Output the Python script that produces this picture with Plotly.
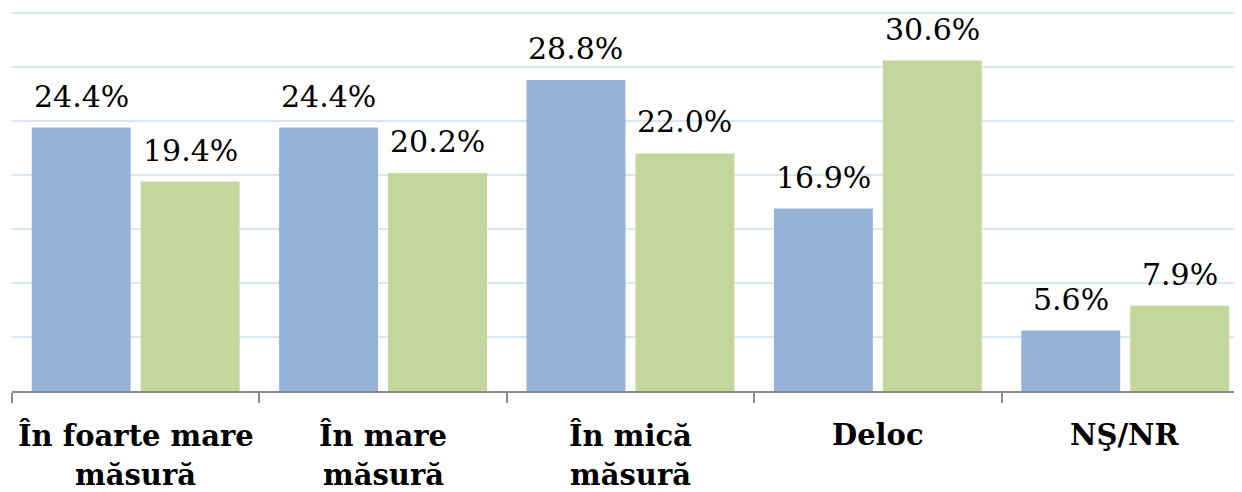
import plotly.graph_objects as go

categories = ["În foarte mare măsură", "În mare măsură", "În mică măsură", "Deloc", "NŞ/NR"]
category_lines = [["În foarte mare", "măsură"], ["În mare", "măsură"], ["În mică", "măsură"], ["Deloc"], ["NŞ/NR"]]
series_a = [24.4, 24.4, 28.8, 16.9, 5.6]
series_b = [19.4, 20.2, 22.0, 30.6, 7.9]

BLUE = "#95B3D7"
GREEN = "#C3D69B"
FONT = "DejaVu Serif"

fig = go.Figure()
fig.add_trace(go.Bar(x=categories, y=series_a, marker=dict(color=BLUE, line=dict(width=0)), name="A"))
fig.add_trace(go.Bar(x=categories, y=series_b, marker=dict(color=GREEN, line=dict(width=0)), name="B"))

annotations = []
for cat, va, vb in zip(categories, series_a, series_b):
    for v, dx in ((va, -54.5), (vb, 54.5)):
        annotations.append(dict(
            x=cat, y=v, xref="x", yref="y", text=f"{v:.1f}%", showarrow=False,
            xanchor="center", yanchor="bottom", xshift=dx, yshift=12,
            font=dict(family=FONT, size=30, color="#000000")))
for cat, lines in zip(categories, category_lines):
    for i, ln in enumerate(lines):
        annotations.append(dict(
            x=cat, y=0, xref="x", yref="paper", text=f"<b>{ln}</b>", showarrow=False,
            xanchor="center", yanchor="top", yshift=-26 - 40 * i, borderpad=0,
            font=dict(family=FONT, size=29, color="#000000")))

fig.update_layout(
    width=1234, height=484,
    margin=dict(l=4, r=0, t=4, b=101),
    paper_bgcolor="white", plot_bgcolor="white",
    font=dict(family=FONT),
    showlegend=False,
    barmode="group", bargap=0.119, bargroupgap=0.092,
    annotations=annotations,
    xaxis=dict(
        type="category", range=[-0.5, 4.472],
        showline=True, linecolor="#8C8C8C", linewidth=1.5,
        ticks="outside", tickson="boundaries", ticklen=10, tickcolor="#8C8C8C", tickwidth=1.5,
        showticklabels=False, showgrid=False, zeroline=False,
    ),
    yaxis=dict(
        range=[0, 35.1], dtick=5, showgrid=True, gridcolor="#DCE6F2", gridwidth=1.5,
        showticklabels=False, zeroline=False, showline=False, ticks="",
    ),
)

fig.write_html("out.html")
